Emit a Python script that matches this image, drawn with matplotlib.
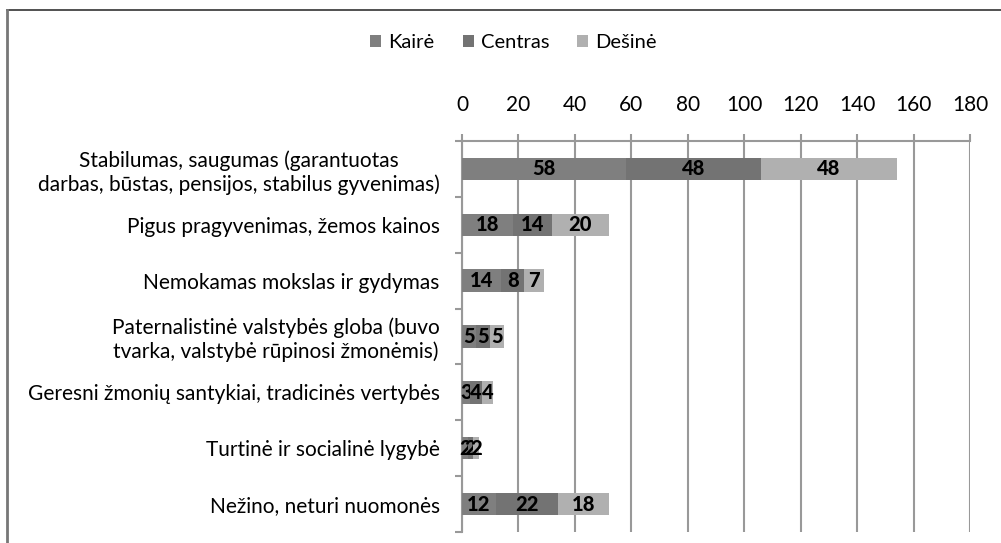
import matplotlib.pyplot as plt
from matplotlib.lines import Line2D
import numpy as np

plt.rcParams['font.family'] = ['Lato', 'DejaVu Sans']

categories = ['Stabilumas, saugumas (garantuotas\ndarbas, būstas, pensijos, stabilus gyvenimas)',
              'Pigus pragyvenimas, žemos kainos',
              'Nemokamas mokslas ir gydymas',
              'Paternalistinė valstybės globa (buvo\ntvarka, valstybė rūpinosi žmonėmis)',
              'Geresni žmonių santykiai, tradicinės vertybės',
              'Turtinė ir socialinė lygybė',
              'Nežino, neturi nuomonės']
series = ['Kairė', 'Centras', 'Dešinė']
kaire = [58, 18, 14, 5, 3, 2, 12]
centras = [48, 14, 8, 5, 4, 2, 22]
desine = [48, 20, 7, 5, 4, 2, 18]
colors = ['#7f7f7f', '#737373', '#b0b0b0']

fig = plt.figure(figsize=(10.01, 5.43), dpi=100)
ax = fig.add_axes([0.4615, 0.0203, 0.5075, 0.72])

y = np.arange(len(categories))
left = np.zeros(len(categories))
for name, vals, c in zip(series, [kaire, centras, desine], colors):
    bars = ax.barh(y, vals, left=left, height=0.4, color=c, label=name, zorder=3)
    ax.bar_label(bars, labels=[str(v) for v in vals], label_type='center',
                 fontsize=14.5, fontweight='black', color='black')
    left += np.array(vals)

ax.set_xlim(0, 180)
ax.set_ylim(len(categories) - 0.5, -0.5)
ax.set_xticks(range(0, 181, 20))
ax.xaxis.tick_top()
ax.tick_params(axis='x', length=5, color='#999999', width=1.5, pad=14, labelsize=15)
ax.grid(axis='x', color='#999999', linewidth=1.5, zorder=0)
ax.set_yticks(y)
ax.set_yticklabels(categories, fontsize=15, linespacing=1.2)
ax.tick_params(axis='y', length=0, pad=16)
ax.set_yticks(np.arange(-0.5, len(categories), 1), minor=True)
ax.tick_params(axis='y', which='minor', length=5, color='#999999', width=1.5)
for lab in ax.get_yticklabels():
    lab.set_horizontalalignment('right')
    lab.set_multialignment('center')
for s in ['right', 'bottom']:
    ax.spines[s].set_visible(False)
for s in ['top', 'left']:
    ax.spines[s].set_color('#999999')
    ax.spines[s].set_linewidth(1.5)

fig.legend(loc='center', bbox_to_anchor=(0.513, 1 - 43 / 543), ncol=3, frameon=False,
           fontsize=14.5, handlelength=0.55, handleheight=0.55, handletextpad=0.35,
           columnspacing=1.4)

fig.add_artist(Line2D([7 / 1001, 1], [1 - 10 / 543, 1 - 10 / 543], color='#333333', linewidth=1.2))
fig.add_artist(Line2D([7 / 1001, 7 / 1001], [0, 1 - 10 / 543], color='#777777', linewidth=2))

fig.savefig('out.png', dpi=100)
